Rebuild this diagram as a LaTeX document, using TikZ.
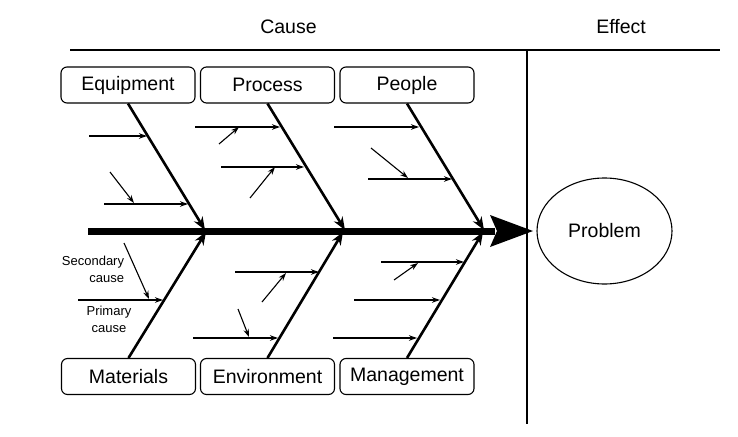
\documentclass[tikz,border=0pt]{standalone}
\usepackage{fontspec}
\setmainfont{Liberation Sans}
\usetikzlibrary{arrows.meta,shapes.geometric}
\begin{document}
\begin{tikzpicture}[x=1pt,y=-1pt,font=\fontsize{19.5}{22}\selectfont,
  box/.style={draw,rounded corners=6pt,line width=1.1pt,minimum width=134pt,minimum height=36pt,inner sep=0pt},
  bone/.style={line width=2.6pt,-{Stealth[length=13pt,width=10pt]}},
  prim/.style={line width=1.2pt,-{Stealth[length=8pt,width=5.5pt]}},
  sec/.style={line width=1.1pt,-{Stealth[length=8pt,width=5.5pt]}},
  rulestyle/.style={line width=1.3pt},
  small/.style={font=\fontsize{13}{17}\selectfont,inner sep=0pt}]
\useasboundingbox (0,0) rectangle (738,436);
% headings and frame lines
\node (cause) at (288.5,27) {Cause};
\node (effect) at (621,27) {Effect};
\coordinate (hl) at (70,50);
\coordinate (hr) at (720,50);
\coordinate (vt) at (527,50);
\coordinate (vb) at (527,424);
\draw[rulestyle] (hl) -- (hr);
\draw[rulestyle] (vt) -- (vb);
% boxes
\node[box] (eq) at (128,85) {Equipment};
\node[box] (pr) at (267.5,85) {Process};
\node[box] (pe) at (407,85) {People};
\node[box] (ma) at (128.5,376.5) {Materials};
\node[box] (en) at (267.5,376.5) {Environment};
\node[box] (mg) at (407,376.5) {Management};
% effect
\node[draw,ellipse,line width=1.1pt,minimum width=135pt,minimum height=106pt,inner sep=0pt] (prob) at (604.5,231) {Problem};
% spine
\coordinate (s0) at (88,231);
\coordinate (s1) at (495,231);
\coordinate (tip) at (533,231);
\draw[line width=7pt] (s0) -- (s1);
\fill (tip) -- (490,215) -- (497,231) -- (490,247) -- cycle;
% bone ends
\coordinate (j1) at (205,230);
\coordinate (j2) at (345,230);
\coordinate (j3) at (484,230);
\coordinate (k1) at (206,232);
\coordinate (k2) at (343,232);
\coordinate (k3) at (483,232);
\draw[bone] (eq.south) -- (j1);
\draw[bone] (pr.south) -- (j2);
\draw[bone] (pe.south) -- (j3);
\draw[bone] (ma.north) -- (k1);
\draw[bone] (en.north) -- (k2);
\draw[bone] (mg.north) -- (k3);
% Equipment causes
\coordinate (a1) at (89,136); \coordinate (a1e) at (147,136);
\coordinate (a2) at (104,204); \coordinate (a2e) at (188,204);
\coordinate (a3) at (110,172); \coordinate (a3e) at (134,203);
\draw[prim] (a1) -- (a1e);
\draw[prim] (a2) -- (a2e);
\draw[sec] (a3) -- (a3e);
% Process causes
\coordinate (b1) at (195,127); \coordinate (b1e) at (280,127);
\coordinate (b2) at (219,144); \coordinate (b2e) at (239,127);
\coordinate (b3) at (221,167); \coordinate (b3e) at (304,167);
\coordinate (b4) at (250,198); \coordinate (b4e) at (275,167);
\draw[prim] (b1) -- (b1e);
\draw[sec] (b2) -- (b2e);
\draw[prim] (b3) -- (b3e);
\draw[sec] (b4) -- (b4e);
% People causes
\coordinate (c1) at (334,127); \coordinate (c1e) at (419,127);
\coordinate (c2) at (371,148); \coordinate (c2e) at (408,178);
\coordinate (c3) at (368,179); \coordinate (c3e) at (452,179);
\draw[prim] (c1) -- (c1e);
\draw[sec] (c2) -- (c2e);
\draw[prim] (c3) -- (c3e);
% Materials causes
\coordinate (d1) at (78,300); \coordinate (d1e) at (163,300);
\coordinate (d2) at (124,243); \coordinate (d2e) at (149,299);
\draw[prim] (d1) -- (d1e);
\draw[sec] (d2) -- (d2e);
\node[small,align=right] (seclbl) at (93,269.5) {Secondary\\cause};
\node[small,align=center] (primlbl) at (109,319) {Primary\\cause};
% Environment causes
\coordinate (e1) at (235,272); \coordinate (e1e) at (319,272);
\coordinate (e2) at (262,302); \coordinate (e2e) at (286,273);
\coordinate (e3) at (193,338); \coordinate (e3e) at (278,338);
\coordinate (e4) at (238,309); \coordinate (e4e) at (249,337);
\draw[prim] (e1) -- (e1e);
\draw[sec] (e2) -- (e2e);
\draw[prim] (e3) -- (e3e);
\draw[sec] (e4) -- (e4e);
% Management causes
\coordinate (f1) at (381,262); \coordinate (f1e) at (464,262);
\coordinate (f2) at (394,280); \coordinate (f2e) at (418,263);
\coordinate (f3) at (354,300); \coordinate (f3e) at (440,300);
\coordinate (f4) at (333,338); \coordinate (f4e) at (417,338);
\draw[prim] (f1) -- (f1e);
\draw[sec] (f2) -- (f2e);
\draw[prim] (f3) -- (f3e);
\draw[prim] (f4) -- (f4e);
\end{tikzpicture}
\end{document}
